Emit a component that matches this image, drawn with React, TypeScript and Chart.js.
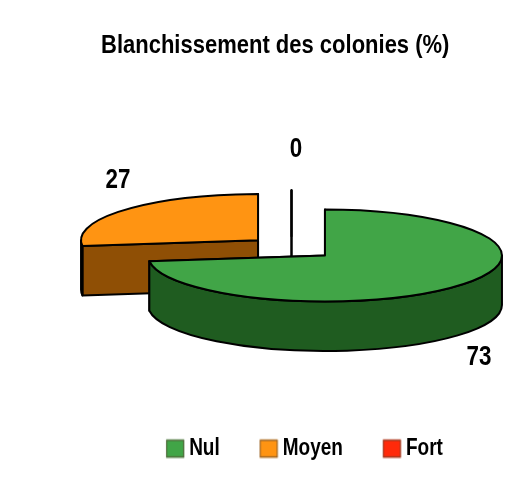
import React, { useEffect, useRef } from "react";
import { Chart, registerables } from "chart.js";

Chart.register(...registerables);

const TITLE = "Blanchissement des colonies (%)";
const categories = ["Nul", "Moyen", "Fort"];
const values = [73, 27, 0];
const topColors = ["#41a547", "#ff9412", "#ff2a0a"];
const sideColors = ["#1f5c20", "#8f4f05", "#8f1505"];

const FONT = "'Liberation Sans', Arial, sans-serif";
const RADIUS = 177;
const TILT = 0.26;
const EXPLODE = 44.6;
const DEPTH = 49.5;
const CENTER_Y = 247.8;
const SHIFT_X = -13;
// label anchor relative to each slice's apex
const labelOffsets = [
  [154, 102],
  [-140, -60],
  [4.5, -87],
];

const LEGEND_FONT = 19;
const LEGEND_BOX = 18;
const LEGEND_GAP = 5;
const LEGEND_STRETCH = 1.22;
const TITLE_STRETCH = 1.14;
const legendBoxW = LEGEND_BOX + LEGEND_GAP - LEGEND_FONT / 2;

function swatch(color: string) {
  const W = 40;
  const H = 20;
  const c = document.createElement("canvas");
  c.width = W;
  c.height = H;
  const g = c.getContext("2d")!;
  const x = W / 2 - legendBoxW / 2;
  const h = LEGEND_BOX / LEGEND_STRETCH;
  const y = (H - h) / 2;
  g.fillStyle = color;
  g.fillRect(x, y, LEGEND_BOX, h);
  g.strokeStyle = "rgba(90,70,50,0.7)";
  g.lineWidth = 1;
  g.strokeRect(x + 0.5, y + 0.5, LEGEND_BOX - 1, h - 1);
  return c;
}

// The reference's text is vertically stretched: draw a layout box with a y-scale about its text centre.
function stretchBox(chart: any, box: any, factor: number, centerY: number) {
  if (!box || box.__stretched) return;
  const original = box.draw.bind(box);
  box.__stretched = true;
  box.draw = (area: any) => {
    const ctx = chart.ctx;
    ctx.save();
    ctx.translate(0, centerY);
    ctx.scale(1, factor);
    ctx.translate(0, -centerY);
    original(area);
    ctx.restore();
  };
}

const tiltedPie = {
  id: "tiltedPie",
  beforeDraw(chart: any) {
    stretchBox(chart, chart.titleBlock, TITLE_STRETCH, 45);
    stretchBox(chart, chart.legend, LEGEND_STRETCH, 448);
  },
  beforeDatasetsDraw(chart: any) {
    const ctx: CanvasRenderingContext2D = chart.ctx;
    const meta = chart.getDatasetMeta(0);
    const parts = meta.data.map((el: any, i: number) => {
      const s = el.startAngle;
      const e = el.endAngle;
      const mid = (s + e) / 2;
      const rx = el.outerRadius;
      return {
        i, s, e, mid, rx,
        ry: rx * TILT,
        cx: el.x + SHIFT_X + Math.cos(mid) * EXPLODE,
        cy: CENTER_Y + Math.sin(mid) * EXPLODE * TILT,
      };
    });
    parts.sort((a: any, b: any) => Math.sin(a.mid) - Math.sin(b.mid));
    ctx.save();
    ctx.lineWidth = 2;
    ctx.lineJoin = "round";
    ctx.strokeStyle = "#000";
    for (const p of parts) {
      const { s, e, cx, cy, rx, ry, i } = p;
      ctx.fillStyle = sideColors[i];
      for (const a of [s, e]) {
        const px = cx + Math.cos(a) * rx;
        const py = cy + Math.sin(a) * ry;
        ctx.beginPath();
        ctx.moveTo(cx, cy);
        ctx.lineTo(px, py);
        ctx.lineTo(px, py + DEPTH);
        ctx.lineTo(cx, cy + DEPTH);
        ctx.closePath();
        ctx.fill();
        ctx.stroke();
      }
      const a0 = Math.max(s, 0);
      const a1 = Math.min(e, Math.PI);
      if (a1 > a0) {
        ctx.beginPath();
        ctx.ellipse(cx, cy, rx, ry, 0, a0, a1);
        ctx.ellipse(cx, cy + DEPTH, rx, ry, 0, a1, a0, true);
        ctx.closePath();
        ctx.fill();
        ctx.stroke();
      }
      ctx.fillStyle = topColors[i];
      ctx.beginPath();
      ctx.moveTo(cx, cy);
      ctx.ellipse(cx, cy, rx, ry, 0, s, e);
      ctx.closePath();
      ctx.fill();
      ctx.stroke();
    }
    ctx.fillStyle = "#000";
    ctx.font = `bold 28px ${FONT}`;
    ctx.textAlign = "center";
    ctx.textBaseline = "middle";
    for (const p of parts) {
      const [ox, oy] = labelOffsets[p.i];
      ctx.save();
      ctx.translate(p.cx + ox, p.cy + oy);
      ctx.scale(0.8, 1);
      ctx.fillText(String(values[p.i]), 0, 0);
      ctx.restore();
    }
    ctx.restore();
    return false;
  },
};

export default function App() {
  const ref = useRef<HTMLCanvasElement>(null);
  useEffect(() => {
    const chart = new Chart(ref.current!, {
      type: "pie",
      data: {
        labels: categories,
        datasets: [{ data: values, backgroundColor: topColors, radius: RADIUS }],
      },
      options: {
        animation: false,
        responsive: false,
        rotation: 0,
        layout: { padding: { left: 101, right: 17, top: 0, bottom: 19 } },
        plugins: {
          title: {
            display: true,
            text: TITLE,
            align: "start",
            color: "#000",
            font: { family: FONT, size: 22, weight: "bold" },
            padding: { top: 33, bottom: 0 },
          },
          legend: {
            position: "bottom",
            labels: {
              color: "#000",
              font: { family: FONT, size: LEGEND_FONT, weight: "bold" },
              padding: 40,
              usePointStyle: true,
              boxWidth: legendBoxW,
              pointStyleWidth: legendBoxW,
              generateLabels: () =>
                categories.map((text, i) => ({
                  text,
                  pointStyle: swatch(topColors[i]),
                  fillStyle: topColors[i],
                  strokeStyle: topColors[i],
                  lineWidth: 0,
                  fontColor: "#000",
                  index: i,
                  datasetIndex: 0,
                })),
            },
          },
          tooltip: { enabled: false },
        },
      } as any,
      plugins: [tiltedPie as any],
    });
    return () => chart.destroy();
  }, []);
  return (
    <div style={{ position: "fixed", left: 0, top: 0, width: 525, height: 487, background: "#fff", overflow: "hidden" }}>
      <canvas ref={ref} width={525} height={487} style={{ display: "block" }} />
    </div>
  );
}
